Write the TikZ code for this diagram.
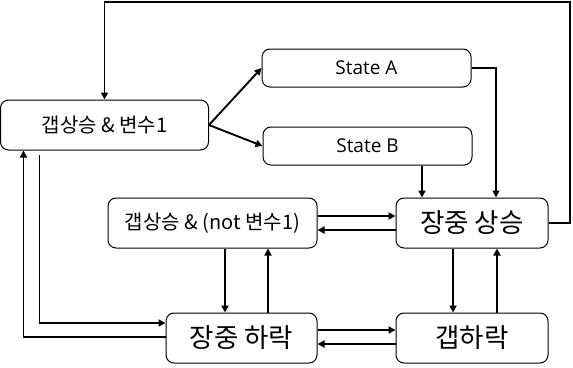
\documentclass[tikz,border=0pt]{standalone}
\usepackage{fontspec}
\setmainfont{Noto Sans CJK KR}
\newfontfamily\latinfont{Open Sans}
\usetikzlibrary{arrows.meta,calc}
\tikzset{
  box/.style={draw,line width=1pt,rounded corners=8pt,inner sep=0pt,align=center},
  small/.style={font=\fontsize{20}{22}\selectfont},
  latin/.style={font=\latinfont\fontsize{19}{22}\selectfont},
  big/.style={font=\fontsize{26.5}{28}\selectfont},
  arr/.style={line width=1.9pt,-{Triangle[length=7pt,width=7pt]}}
}
\begin{document}
\begin{tikzpicture}[x=1pt,y=-1pt]
\useasboundingbox (0,0) rectangle (573,367);
\node[box,small,minimum width=208pt,minimum height=50pt] (g1) at (104.5,125) {갭상승 \& 변수1};
\node[box,latin,minimum width=209pt,minimum height=38pt] (sa) at (366.5,68) {State A};
\node[box,latin,minimum width=209pt,minimum height=38pt] (sb) at (367.5,146) {State B};
\node[box,big,minimum width=152pt,minimum height=50pt] (up) at (472,223) {장중 상승};
\node[box,small,minimum width=209pt,minimum height=50pt] (g2) at (212.5,223) {갭상승 \& (not 변수1)};
\node[box,big,minimum width=151pt,minimum height=50pt] (dn) at (241.5,338) {장중 하락};
\node[box,big,minimum width=152pt,minimum height=50pt] (gd) at (472,338) {갭하락};
\coordinate (tr) at (570,2);
\draw[arr] (up.east) -| (tr) -| (g1.north);
\draw[arr] (g1.east) -- (sa.west);
\draw[arr] (g1.east) -- (sb.west);
\draw[arr] (sa.east) -| ([xshift=24pt]up.north);
\draw[arr] ([xshift=54.5pt]sb.south) -- ([xshift=-50pt]up.north);
\draw[arr] ([yshift=7pt]g2.east) -- ([yshift=7pt]up.west);
\draw[arr] ([yshift=-7pt]up.west) -- ([yshift=-7pt]g2.east);
\draw[arr] ([yshift=8pt]dn.east) -- ([yshift=8pt]gd.west);
\draw[arr] ([yshift=-6pt]gd.west) -- ([yshift=-6pt]dn.east);
\draw[arr] ([xshift=12.5pt]g2.south) -- ([xshift=-16.5pt]dn.north);
\draw[arr] ([xshift=26.5pt]dn.north) -- ([xshift=55.5pt]g2.south);
\draw[arr] ([xshift=-19pt]up.south) -- ([xshift=-19pt]gd.north);
\draw[arr] ([xshift=25pt]gd.north) -- ([xshift=25pt]up.south);
\draw[arr] ([yshift=1pt]dn.west) -| ([xshift=-81pt]g1.south);
\draw[arr] ([xshift=-65pt,yshift=-4pt]g1.south) |- ([yshift=15pt]dn.west);
\end{tikzpicture}
\end{document}
